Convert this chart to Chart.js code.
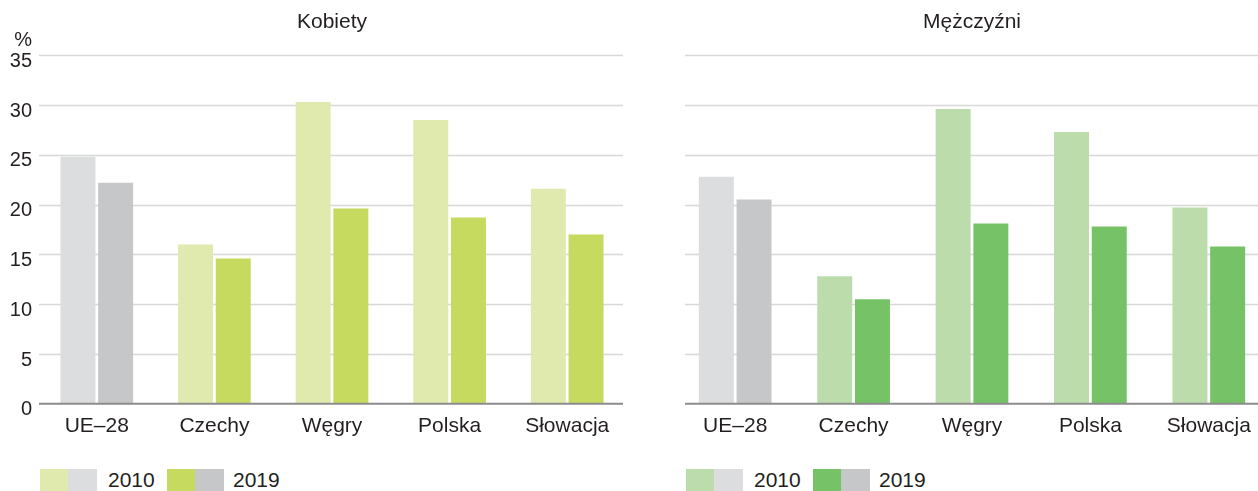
<!DOCTYPE html>
<html lang="pl">
<head>
<meta charset="utf-8">
<script src="https://cdn.jsdelivr.net/npm/chart.js@4.4.1/dist/chart.umd.min.js"></script>
<style>
    html, body { margin: 0; padding: 0; background: #fff; overflow: hidden; }
    body { width: 1258px; height: 491px; position: relative; font-family: 'Liberation Sans', Arial, sans-serif; color: #231f20; }
    canvas { position: absolute; top: 0; }
    .legend { position: absolute; top: 469px; height: 22px; }
    .sw { position: absolute; top: 0; height: 22px; }
    .lt { position: absolute; top: 0; height: 22px; line-height: 22px; font-size: 21px; }
</style>
</head>
<body>
<canvas id="women" width="629" height="456" style="left:0"></canvas>
<canvas id="men" width="640" height="456" style="left:629px"></canvas>
<div class="legend" id="legendWomen" style="left:40px"></div>
<div class="legend" id="legendMen" style="left:686px"></div>
<script>
const categories = ['UE\u201328', 'Czechy', 'W\u0119gry', 'Polska', 'S\u0142owacja'];
const years = ['2010', '2019'];
const women2010 = [24.8, 16.0, 30.3, 28.5, 21.6];
const women2019 = [22.2, 14.6, 19.6, 18.7, 17.0];
const men2010 = [22.8, 12.8, 29.6, 27.3, 19.7];
const men2019 = [20.5, 10.5, 18.1, 17.8, 15.8];
const yMax = 35;
const yStep = 5;

const grey2010 = '#dcdddf';
const grey2019 = '#c6c7c9';
const textColor = '#231f20';

Chart.defaults.font.family = "'Liberation Sans', Arial, sans-serif";
Chart.defaults.color = textColor;

// first bar of each series is the EU average, drawn in grey
function barColors(values, base, grey) {
    return values.map((v, i) => i === 0 ? grey : base);
}

// gridlines drawn by hand so they can start/stop where the original does
const gridPlugin = {
    id: 'customGrid',
    beforeDatasetsDraw(chart, args, opts) {
        const ctx = chart.ctx;
        const y = chart.scales.y;
        ctx.save();
        ctx.strokeStyle = '#d8d8d8';
        ctx.lineWidth = 1.5;
        y.ticks.forEach(t => {
            if (t.value === 0) return;
            const py = Math.round(y.getPixelForValue(t.value)) + 0.5;
            ctx.beginPath();
            ctx.moveTo(opts.from, py);
            ctx.lineTo(opts.to, py);
            ctx.stroke();
        });
        ctx.restore();
    },
    afterDatasetsDraw(chart, args, opts) {
        const ctx = chart.ctx;
        const py = chart.scales.y.getPixelForValue(0);
        ctx.save();
        ctx.strokeStyle = '#8c8c8c';
        ctx.lineWidth = 2;
        ctx.beginPath();
        ctx.moveTo(opts.from, py);
        ctx.lineTo(opts.to, py);
        ctx.stroke();
        if (opts.unit) {
            ctx.fillStyle = textColor;
            ctx.font = "20px 'Liberation Sans', Arial, sans-serif";
            ctx.textAlign = 'right';
            ctx.textBaseline = 'middle';
            ctx.fillText(opts.unit, 32, 40);
        }
        ctx.restore();
    }
};

function makeChart(id, title, v2010, v2019, c2010, c2019, o) {
    const ctx = document.getElementById(id).getContext('2d');
    return new Chart(ctx, {
        type: 'bar',
        data: {
            labels: categories,
            datasets: [{
                label: years[0],
                data: v2010,
                backgroundColor: barColors(v2010, c2010, grey2010),
                categoryPercentage: o.catPct,
                barPercentage: 0.928
            }, {
                label: years[1],
                data: v2019,
                backgroundColor: barColors(v2019, c2019, grey2019),
                categoryPercentage: o.catPct,
                barPercentage: 0.928
            }]
        },
        options: {
            responsive: false,
            animation: false,
            layout: { padding: { right: o.padRight, bottom: 7 } },
            plugins: {
                legend: { display: false },
                tooltip: { enabled: false },
                title: {
                    display: true,
                    text: title,
                    fullSize: false,
                    color: textColor,
                    font: { size: 21, weight: 'normal' },
                    padding: { top: 10, bottom: 20 }
                },
                customGrid: { from: o.gridFrom, to: o.gridTo, unit: o.unit }
            },
            scales: {
                x: {
                    grid: { display: false, drawTicks: false },
                    border: { display: false },
                    ticks: {
                        font: { size: 21 },
                        color: textColor,
                        padding: 10,
                        maxRotation: 0,
                        autoSkip: false
                    }
                },
                y: {
                    min: 0,
                    max: yMax,
                    grid: { display: false, drawTicks: false },
                    border: { display: false },
                    afterFit: scale => { scale.width = o.axisWidth; },
                    ticks: {
                        display: o.showTicks,
                        stepSize: yStep,
                        font: { size: 20 },
                        color: textColor,
                        padding: 6,
                        labelOffset: 6
                    }
                }
            }
        },
        plugins: [gridPlugin]
    });
}

makeChart('women', 'Kobiety', women2010, women2019, '#e0eaae', '#c5da5e', {
    catPct: 0.641, padRight: 3, axisWidth: 38, showTicks: true,
    gridFrom: 39, gridTo: 623, unit: '%'
});
makeChart('men', 'M\u0119\u017cczy\u017ani', men2010, men2019, '#bddcab', '#76c267', {
    catPct: 0.637, padRight: 1, axisWidth: 47, showTicks: false,
    gridFrom: 56, gridTo: 640, unit: ''
});

// legend: a green and a grey swatch per year, then the year
function buildLegend(id, c2010, c2019) {
    const el = document.getElementById(id);
    const items = [
        { x: 0, colors: [c2010, grey2010], label: years[0], tx: 68 },
        { x: 127, colors: [c2019, grey2019], label: years[1], tx: 193 }
    ];
    items.forEach(it => {
        it.colors.forEach((c, i) => {
            const s = document.createElement('div');
            s.className = 'sw';
            s.style.left = (it.x + i * 28) + 'px';
            s.style.width = '28.5px';
            s.style.background = c;
            el.appendChild(s);
        });
        const t = document.createElement('div');
        t.className = 'lt';
        t.style.left = it.tx + 'px';
        t.textContent = it.label;
        el.appendChild(t);
    });
}
buildLegend('legendWomen', '#e0eaae', '#c5da5e');
buildLegend('legendMen', '#bddcab', '#76c267');
</script>
</body>
</html>
